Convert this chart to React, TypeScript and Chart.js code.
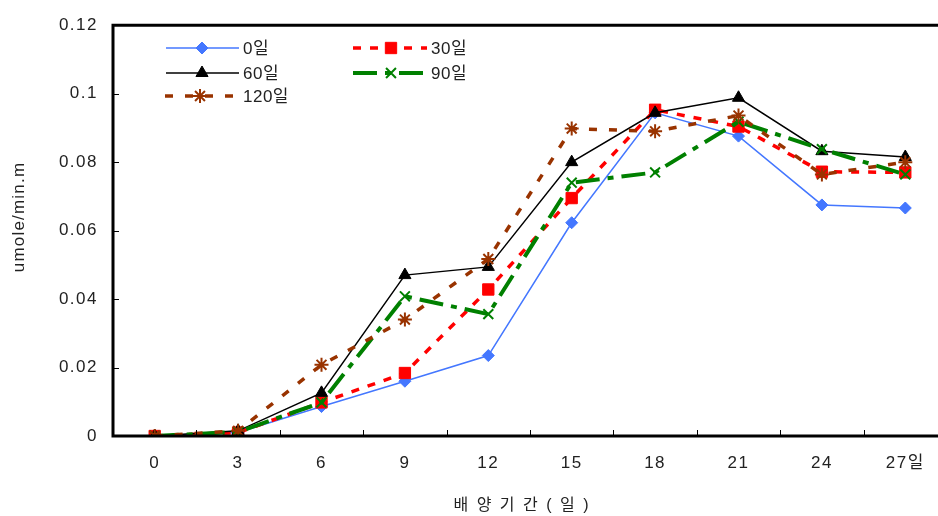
import React, { useEffect, useRef } from 'react';
import { Chart, registerables } from 'chart.js';
import { drawPoint } from 'chart.js/helpers';

Chart.register(...registerables);

const categories = ['0', '3', '6', '9', '12', '15', '18', '21', '24', '27일'];
const seriesNames = ['0일', '30일', '60일', '90일', '120일'];
const series0 = [0, 0.001, 0.0086, 0.016, 0.0235, 0.0623, 0.0944, 0.0876, 0.0675, 0.0666];
const series30 = [0, 0.001, 0.0098, 0.0184, 0.0428, 0.0695, 0.0953, 0.0904, 0.0772, 0.077];
const series60 = [0, 0.0015, 0.0126, 0.047, 0.0494, 0.08, 0.0944, 0.0988, 0.0832, 0.0815];
const series90 = [0, 0.0012, 0.0098, 0.0408, 0.0356, 0.074, 0.077, 0.0918, 0.0838, 0.0764];
const series120 = [0, 0.0015, 0.0208, 0.034, 0.0517, 0.0898, 0.089, 0.0936, 0.0764, 0.08];
const yMin = 0;
const yMax = 0.12;
const yStep = 0.02;
const xTitle = '배 양 기 간 ( 일 )';
const yTitle = 'umole/min.m';

const FONT = '"Liberation Sans", Arial, "Noto Sans CJK KR", sans-serif';
const TEXT = '#222';

const spacingPlugin = {
  id: 'spacing',
  beforeDraw(chart: any) {
    chart.ctx.letterSpacing = '1.5px';
  },
};

const framePlugin = {
  id: 'frameAndTicks',
  afterDraw(chart: any) {
    const { ctx, chartArea } = chart;
    const { left, top, right, bottom } = chartArea;
    const xs = chart.scales.x;
    const ys = chart.scales.y;
    ctx.save();
    ctx.strokeStyle = '#000';
    ctx.setLineDash([]);
    ctx.lineWidth = 1;
    for (let v = yMin; v <= yMax + 1e-9; v += yStep) {
      const y = Math.round(ys.getPixelForValue(v)) + 0.5;
      ctx.beginPath();
      ctx.moveTo(left, y);
      ctx.lineTo(left + 6, y);
      ctx.stroke();
    }
    const n = categories.length;
    for (let i = 0; i <= n; i++) {
      const x = Math.round(xs.getPixelForValue(i - 0.5)) + 0.5;
      ctx.beginPath();
      ctx.moveTo(x, bottom);
      ctx.lineTo(x, bottom - 6);
      ctx.stroke();
    }
    ctx.lineWidth = 3;
    ctx.beginPath();
    ctx.moveTo(right + 5, top);
    ctx.lineTo(left, top);
    ctx.lineTo(left, bottom);
    ctx.lineTo(right + 5, bottom);
    ctx.stroke();

    // axis titles
    ctx.fillStyle = TEXT;
    ctx.textBaseline = 'middle';
    ctx.textAlign = 'center';
    ctx.font = `16px ${FONT}`;
    ctx.letterSpacing = '2px';
    ctx.fillText(xTitle, 522, 506);
    ctx.save();
    ctx.translate(19, 217);
    ctx.rotate(-Math.PI / 2);
    ctx.font = `17px ${FONT}`;
    ctx.letterSpacing = '1.2px';
    ctx.fillText(yTitle, 0, 0);
    ctx.restore();
    ctx.restore();
  },
};

const legendPlugin = {
  id: 'innerLegend',
  afterDatasetsDraw(chart: any) {
    const { ctx } = chart;
    const positions = [
      { x1: 166, x2: 239, mx: 202, tx: 243, y: 48 },
      { x1: 353, x2: 427, mx: 391, tx: 431, y: 48 },
      { x1: 166, x2: 239, mx: 202, tx: 243, y: 73 },
      { x1: 353, x2: 427, mx: 391, tx: 431, y: 73 },
      { x1: 165, x2: 236, mx: 200, tx: 243, y: 96 },
    ];
    chart.data.datasets.forEach((ds: any, i: number) => {
      const p = positions[i];
      ctx.save();
      ctx.strokeStyle = ds.borderColor;
      ctx.lineWidth = ds.borderWidth;
      ctx.setLineDash(ds.borderDash || []);
      ctx.beginPath();
      ctx.moveTo(p.x1, p.y);
      ctx.lineTo(p.x2, p.y);
      ctx.stroke();
      ctx.setLineDash([]);
      ctx.fillStyle = ds.pointBackgroundColor;
      ctx.strokeStyle = ds.pointBorderColor;
      ctx.lineWidth = ds.pointBorderWidth;
      drawPoint(ctx, { pointStyle: ds.pointStyle, radius: ds.pointRadius, rotation: 0, borderWidth: ds.pointBorderWidth }, p.mx, p.y);
      ctx.fillStyle = TEXT;
      ctx.font = `17px ${FONT}`;
      ctx.letterSpacing = '0.5px';
      ctx.textBaseline = 'middle';
      ctx.textAlign = 'left';
      ctx.fillText(seriesNames[i], p.tx, p.y + 1);
      ctx.restore();
    });
  },
};

export default function App() {
  const ref = useRef<HTMLCanvasElement | null>(null);
  useEffect(() => {
    document.body.style.margin = '0';
    const canvas = ref.current;
    if (!canvas) return;
    const mk = (data: number[], color: string, width: number, dash: number[], style: string, radius: number, bw: number, order: number) => ({
      data,
      borderColor: color,
      borderWidth: width,
      borderDash: dash,
      pointStyle: style,
      pointRadius: radius,
      pointBackgroundColor: color,
      pointBorderColor: color,
      pointBorderWidth: bw,
      fill: false,
      tension: 0,
      order,
    });
    const chart = new Chart(canvas, {
      type: 'line',
      data: {
        labels: categories,
        datasets: [
          { label: seriesNames[0], ...mk(series0, '#4477ff', 1.5, [], 'rectRot', 6, 1, 5) },
          { label: seriesNames[1], ...mk(series30, '#ff0000', 3.5, [8, 9], 'rect', 8, 1, 4) },
          { label: seriesNames[2], ...mk(series60, '#000000', 1.5, [], 'triangle', 7, 1, 3) },
          { label: seriesNames[3], ...mk(series90, '#008000', 4, [24, 8, 6, 8], 'crossRot', 7, 2, 2) },
          { label: seriesNames[4], ...mk(series120, '#993300', 3.5, [8, 12], 'star', 7, 2, 1) },
        ] as any,
      },
      options: {
        animation: false,
        responsive: false,
        devicePixelRatio: 1,
        layout: { padding: { top: 18, left: 0, right: 0, bottom: 0 } },
        plugins: { legend: { display: false }, tooltip: { enabled: false } },
        scales: {
          x: {
            type: 'category',
            offset: true,
            grid: { display: false, drawTicks: false },
            border: { display: false },
            ticks: { color: TEXT, font: { size: 17, family: FONT }, padding: 17, maxRotation: 0, autoSkip: false },
            afterFit(scale: any) { scale.height = 80; },
          },
          y: {
            min: yMin,
            max: yMax,
            grid: { display: false, drawTicks: false },
            border: { display: false },
            ticks: {
              stepSize: yStep,
              color: TEXT,
              font: { size: 17, family: FONT },
              padding: 15,
              callback: (v: any) => String(parseFloat(Number(v).toFixed(2))),
            },
            afterFit(scale: any) { scale.width = 113; },
          },
        },
      } as any,
      plugins: [spacingPlugin, framePlugin, legendPlugin],
    });
    return () => chart.destroy();
  }, []);
  return (
    <div style={{ width: 938, height: 516, overflow: 'hidden', position: 'relative', background: '#fff' }}>
      <canvas ref={ref} width={956} height={516} style={{ width: 956, height: 516, display: 'block' }} />
    </div>
  );
}
